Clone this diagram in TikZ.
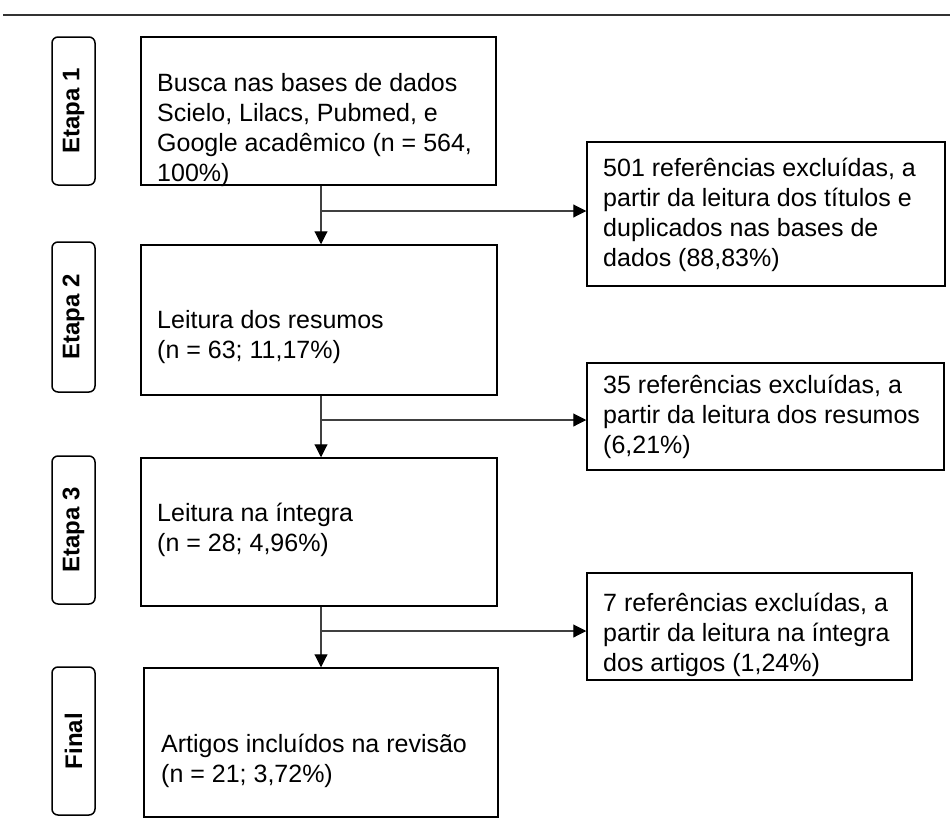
\documentclass[tikz,border=0pt]{standalone}
\usepackage{fontspec}
\setmainfont{Liberation Sans}
\usetikzlibrary{arrows.meta}
\newcommand\flowtext[1]{\parbox[t]{420pt}{\fontsize{25}{30}\selectfont\raggedright #1}}
\begin{document}
\begin{tikzpicture}[x=1pt,y=-1pt,
  boxstyle/.style={draw=black, line width=1.5pt, rectangle, inner sep=0pt},
  stagebox/.style={draw=black, line width=1.5pt, rounded corners=6pt, inner sep=0pt, rotate=90, minimum height=43pt, font=\fontsize{24}{28}\selectfont\bfseries},
  flowarrow/.style={draw=black!75, line width=1.1pt, -{Triangle[length=13pt,width=13pt,fill=black,color=black]}},
  txt/.style={anchor=base west, inner sep=0pt}]

\useasboundingbox (0,0) rectangle (950,830);

% top rule
\coordinate (rl) at (3,15);
\coordinate (rr) at (950,15);
\draw[line width=2.5pt, black!80] (rl) -- (rr);

% stage labels
\node[stagebox, minimum width=148pt] (e1) at (73.5,111) {Etapa 1};
\node[stagebox, minimum width=150pt] (e2) at (73.5,317) {Etapa 2};
\node[stagebox, minimum width=148pt] (e3) at (73.5,530) {Etapa 3};
\node[stagebox, minimum width=148pt] (e4) at (73.5,741) {Final};

% main boxes
\node[boxstyle, minimum width=355pt, minimum height=148pt] (b1) at (318.5,111) {};
\node[boxstyle, minimum width=356pt, minimum height=150pt] (b2) at (319,320) {};
\node[boxstyle, minimum width=356pt, minimum height=148pt] (b3) at (319,532) {};
\node[boxstyle, minimum width=354pt, minimum height=149pt] (b4) at (321,742.5) {};

% exclusion boxes
\node[boxstyle, minimum width=358pt, minimum height=144pt] (r1) at (766,214) {};
\node[boxstyle, minimum width=357pt, minimum height=107pt] (r2) at (765.5,416.5) {};
\node[boxstyle, minimum width=325pt, minimum height=107pt] (r3) at (749.5,626.5) {};

% texts
\node[txt] (t1) at (157,91) {\flowtext{Busca nas bases de dados\\Scielo, Lilacs, Pubmed, e\\Google acadêmico (n = 564,\\100\%)}};
\node[txt] (t2) at (157,328) {\flowtext{Leitura dos resumos\\(n = 63; 11,17\%)}};
\node[txt] (t3) at (157,521) {\flowtext{Leitura na íntegra\\(n = 28; 4,96\%)}};
\node[txt] (t4) at (161,752) {\flowtext{Artigos incluídos na revisão\\(n = 21; 3,72\%)}};
\node[txt] (s1) at (603,176) {\flowtext{501 referências excluídas, a\\partir da leitura dos títulos e\\duplicados nas bases de\\dados (88,83\%)}};
\node[txt] (s2) at (603,393) {\flowtext{35 referências excluídas, a\\partir da leitura dos resumos\\(6,21\%)}};
\node[txt] (s3) at (603,611) {\flowtext{7 referências excluídas, a\\partir da leitura na íntegra\\dos artigos (1,24\%)}};

% connectors
\coordinate (j1) at (321,211);
\coordinate (j2) at (321,420);
\coordinate (j3) at (321,631);
\draw[flowarrow] (b1.south -| j1) -- (b2.north -| j1);
\draw[flowarrow] (j1) -- (j1 -| r1.west);
\draw[flowarrow] (b2.south -| j2) -- (b3.north -| j2);
\draw[flowarrow] (j2) -- (j2 -| r2.west);
\draw[flowarrow] (b3.south -| j3) -- (b4.north -| j3);
\draw[flowarrow] (j3) -- (j3 -| r3.west);
\end{tikzpicture}
\end{document}
